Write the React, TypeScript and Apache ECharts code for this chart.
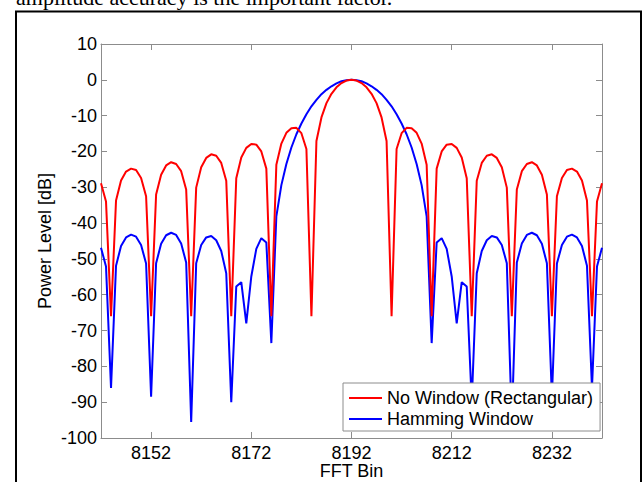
import React, { useEffect, useRef } from "react";
import * as echarts from "echarts";

const bins = [
  8142, 8143, 8144, 8145, 8146, 8147, 8148, 8149, 8150, 8151,
  8152, 8153, 8154, 8155, 8156, 8157, 8158, 8159, 8160, 8161,
  8162, 8163, 8164, 8165, 8166, 8167, 8168, 8169, 8170, 8171,
  8172, 8173, 8174, 8175, 8176, 8177, 8178, 8179, 8180, 8181,
  8182, 8183, 8184, 8185, 8186, 8187, 8188, 8189, 8190, 8191,
  8192,
  8193, 8194, 8195, 8196, 8197, 8198, 8199, 8200, 8201, 8202,
  8203, 8204, 8205, 8206, 8207, 8208, 8209, 8210, 8211, 8212,
  8213, 8214, 8215, 8216, 8217, 8218, 8219, 8220, 8221, 8222,
  8223, 8224, 8225, 8226, 8227, 8228, 8229, 8230, 8231, 8232,
  8233, 8234, 8235, 8236, 8237, 8238, 8239, 8240, 8241, 8242,
];

const rectangularDb = [
  -28.9, -34.0, -66.0, -33.7, -28.1, -25.6, -24.8, -25.2, -27.4, -32.5,
  -66.0, -32.0, -26.5, -23.9, -23.0, -23.5, -25.5, -30.6, -66.0, -30.1,
  -24.4, -21.8, -20.8, -21.2, -23.2, -28.2, -66.0, -27.5, -21.7, -19.0,
  -17.9, -18.1, -20.0, -24.8, -66.0, -23.7, -17.8, -14.8, -13.5, -13.4,
  -14.9, -19.3, -66.0, -17.1, -10.5, -6.5, -3.9, -2.1, -0.9, -0.2,
  0,
  -0.2, -0.9, -2.1, -3.9, -6.5, -10.5, -17.1, -66.0, -19.3, -14.9,
  -13.4, -13.5, -14.8, -17.8, -23.7, -66.0, -24.8, -20.0, -18.1, -17.9,
  -19.0, -21.7, -27.5, -66.0, -28.2, -23.2, -21.2, -20.8, -21.8, -24.4,
  -30.1, -66.0, -30.6, -25.5, -23.5, -23.0, -23.9, -26.5, -32.0, -66.0,
  -32.5, -27.4, -25.2, -24.8, -25.6, -28.1, -33.7, -66.0, -34.0, -28.9,
];

const hammingDb = [
  -46.9, -52.1, -86.0, -51.9, -46.4, -44.0, -43.2, -43.8, -46.1, -51.3,
  -88.5, -51.2, -45.8, -43.4, -42.7, -43.3, -45.7, -51.0, -95.5, -51.2,
  -46.1, -44.0, -43.6, -44.8, -47.8, -54.0, -90.0, -57.7, -56.5, -68.0,
  -54.9, -47.2, -44.2, -45.4, -73.5, -38.1, -29.4, -23.5, -18.9, -15.2,
  -12.2, -9.6, -7.4, -5.6, -4.0, -2.8, -1.8, -1.0, -0.4, -0.1,
  0,
  -0.1, -0.4, -1.0, -1.8, -2.8, -4.0, -5.6, -7.4, -9.6, -12.2,
  -15.2, -18.9, -23.5, -29.4, -38.1, -73.5, -45.4, -44.2, -47.2, -54.9,
  -68.0, -56.5, -57.7, -90.0, -54.0, -47.8, -44.8, -43.6, -44.0, -46.1,
  -51.2, -95.5, -51.0, -45.7, -43.3, -42.7, -43.4, -45.8, -51.2, -88.5,
  -51.3, -46.1, -43.8, -43.2, -44.0, -46.4, -51.9, -86.0, -52.1, -46.9,
];

const xTicks = [8152, 8172, 8192, 8212, 8232];
const xMin = 8142;
const xMax = 8242;
const yMin = -100;
const yMax = 10;
const yStep = 10;

const seriesNames = ["No Window (Rectangular)", "Hamming Window"];
const seriesColors = ["#ff0000", "#0000ff"];
const xTitle = "FFT Bin";
const yTitle = "Power Level [dB]";
const topText = "amplitude accuracy is the important factor.";

const FONT = "'Liberation Sans', Arial, Helvetica, sans-serif";
const AXIS_GRAY = "#8c8c8c";

export default function App() {
  const ref = useRef<HTMLDivElement>(null);

  useEffect(() => {
    if (!ref.current) return;
    const chart = echarts.init(ref.current, null, { renderer: "svg" });

    const tickCommon = { show: true, inside: true, length: 6, lineStyle: { color: AXIS_GRAY, width: 1 } };
    const lineCommon = { show: true, onZero: false, lineStyle: { color: AXIS_GRAY, width: 1 } };

    chart.setOption({
      animation: false,
      backgroundColor: "#ffffff",
      textStyle: { fontFamily: FONT },
      grid: {
        left: 101,
        top: 44,
        width: 501,
        height: 394,
        containLabel: false,
        outerBoundsMode: "none",
      },
      legend: {
        data: seriesNames.map((n) => ({ name: n, icon: "rect" })),
        orient: "vertical",
        left: 343,
        top: 383,
        backgroundColor: "#ffffff",
        borderColor: "#8c8c8c",
        borderWidth: 1,
        borderRadius: 0,
        padding: [6, 7, 3, 6],
        itemGap: 3,
        itemWidth: 33,
        itemHeight: 2,
        textStyle: { fontSize: 18, lineHeight: 18, height: 18, color: "#000", fontFamily: FONT },
        z: 10,
      },
      xAxis: [
        {
          type: "value",
          min: xMin,
          max: xMax,
          position: "bottom",
          name: xTitle,
          nameLocation: "middle",
          nameGap: 26,
          nameMoveOverlap: false,
          nameTextStyle: { fontSize: 18, lineHeight: 14, color: "#000", fontFamily: FONT },
          axisLine: lineCommon,
          axisTick: { ...tickCommon, customValues: xTicks },
          axisLabel: {
            show: true,
            customValues: xTicks,
            margin: 8,
            fontSize: 18,
            lineHeight: 14,
            color: "#000",
            fontFamily: FONT,
            formatter: (v: number) => String(v),
          },
          splitLine: { show: false },
        },
        {
          type: "value",
          min: xMin,
          max: xMax,
          position: "top",
          axisLine: lineCommon,
          axisTick: { ...tickCommon, customValues: xTicks },
          axisLabel: { show: false, customValues: xTicks },
          splitLine: { show: false },
        },
      ],
      yAxis: [
        {
          type: "value",
          min: yMin,
          max: yMax,
          interval: yStep,
          position: "left",
          name: yTitle,
          nameLocation: "middle",
          nameGap: 47,
          nameMoveOverlap: false,
          nameRotate: 90,
          nameTextStyle: { fontSize: 18, color: "#000", fontFamily: FONT },
          axisLine: lineCommon,
          axisTick: tickCommon,
          axisLabel: { show: true, margin: 4, fontSize: 18, color: "#000", fontFamily: FONT },
          splitLine: { show: false },
        },
        {
          type: "value",
          min: yMin,
          max: yMax,
          interval: yStep,
          position: "right",
          axisLine: lineCommon,
          axisTick: tickCommon,
          axisLabel: { show: false },
          splitLine: { show: false },
        },
      ],
      series: [
        {
          name: seriesNames[0],
          type: "line",
          xAxisIndex: 0,
          yAxisIndex: 0,
          data: bins.map((b, i) => [b, rectangularDb[i]]),
          symbol: "none",
          clip: true,
          z: 3,
          lineStyle: { color: seriesColors[0], width: 2 },
          itemStyle: { color: seriesColors[0] },
        },
        {
          name: seriesNames[1],
          type: "line",
          xAxisIndex: 0,
          yAxisIndex: 0,
          data: bins.map((b, i) => [b, hammingDb[i]]),
          symbol: "none",
          clip: true,
          z: 2,
          lineStyle: { color: seriesColors[1], width: 2 },
          itemStyle: { color: seriesColors[1] },
        },
      ],
      graphic: [
        {
          type: "text",
          x: 16,
          y: -2.7,
          style: {
            text: topText,
            fontFamily: "'Liberation Serif', 'Times New Roman', serif",
            fontSize: 22,
            fill: "#000",
            verticalAlign: "middle",
            align: "left",
          },
          z: 20,
        },
        {
          type: "rect",
          shape: { x: 16, y: 11.5, width: 625, height: 500 },
          style: { fill: "none", stroke: "#000", lineWidth: 2 },
          z: 20,
          silent: true,
        },
      ],
    });

    return () => chart.dispose();
  }, []);

  return (
    <div
      ref={ref}
      style={{ position: "fixed", left: 0, top: 0, width: 643, height: 482, background: "#fff" }}
    />
  );
}
